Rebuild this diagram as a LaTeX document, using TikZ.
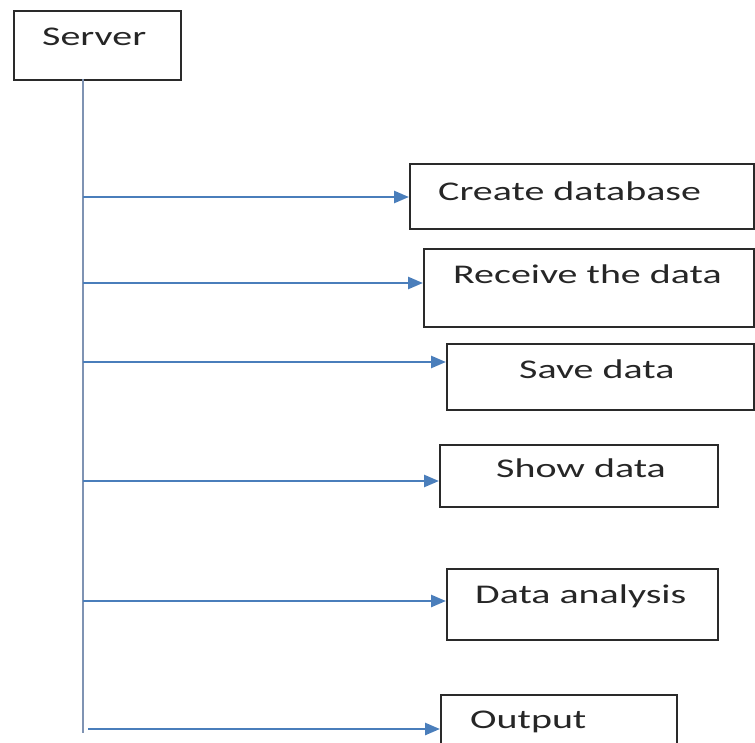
\documentclass[tikz,border=0pt]{standalone}
\usepackage{fontspec}
\setmainfont{Carlito}[FakeStretch=1.48]
\usetikzlibrary{arrows.meta}
\definecolor{arrblue}{HTML}{4A7EBB}
\definecolor{lineblue}{HTML}{7F93B3}
\definecolor{boxgray}{HTML}{2A2A2A}
\tikzset{
  box/.style={draw=boxgray, line width=2.2pt, rectangle, inner sep=0pt, anchor=north west},
  lbl/.style={inner sep=0pt, anchor=base west, font=\fontsize{27pt}{30pt}\selectfont, text=black!85},
  arr/.style={draw=arrblue, line width=2.6pt, -{Triangle[length=15pt,width=12pt]}},
  trunk/.style={draw=lineblue, line width=2.8pt}
}
\begin{document}
\begin{tikzpicture}[x=1pt,y=-1pt]
\useasboundingbox (0,0) rectangle (755,742);
\clip (0,0) rectangle (755,742);
% boxes
\node[box, minimum width=167pt, minimum height=69pt] (srv) at (13,10) {};
\node[box, minimum width=344pt, minimum height=65pt] (b1) at (409,163) {};
\node[box, minimum width=330pt, minimum height=78pt] (b2) at (423,248) {};
\node[box, minimum width=307pt, minimum height=66pt] (b3) at (446,343) {};
\node[box, minimum width=278pt, minimum height=62pt] (b4) at (439,444) {};
\node[box, minimum width=271pt, minimum height=71pt] (b5) at (446,568) {};
\node[box, minimum width=236pt, minimum height=80pt] (b6) at (440,694) {};
% labels
\node[lbl] (tsrv) at (42,45) {Server};
\node[lbl] (t1) at (438,200) {Create database};
\node[lbl] (t2) at (453,283) {Receive the data};
\node[lbl] (t3) at (519,378) {Save data};
\node[lbl] (t4) at (496,477) {Show data};
\node[lbl] (t5) at (475,603) {Data analysis};
\node[lbl] (t6) at (470,728) {Output};
% trunk
\coordinate (top) at (83,79);
\coordinate (bot) at (83,733);
\draw[trunk] (top) -- (bot);
% branches
\coordinate (s1) at (83,197);
\coordinate (s2) at (83,283);
\coordinate (s3) at (83,362);
\coordinate (s4) at (83,481);
\coordinate (s5) at (83,601);
\coordinate (s6) at (88,729);
\draw[arr] (s1) -- (s1 -| b1.west);
\draw[arr] (s2) -- (s2 -| b2.west);
\draw[arr] (s3) -- (s3 -| b3.west);
\draw[arr] (s4) -- (s4 -| b4.west);
\draw[arr] (s5) -- (s5 -| b5.west);
\draw[arr] (s6) -- (s6 -| b6.west);
\end{tikzpicture}
\end{document}
